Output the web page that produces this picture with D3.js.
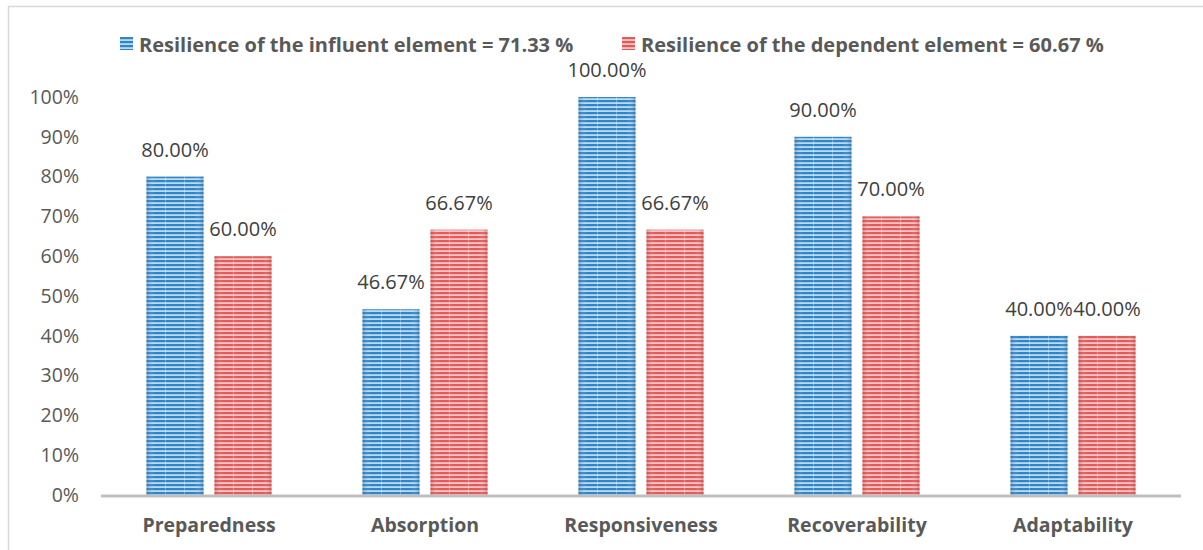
<!DOCTYPE html>
<html>
<head>
<meta charset="utf-8">
<script src="https://cdn.jsdelivr.net/npm/d3@7"></script>
<style>
  body { margin: 0; background: #fff; }
  svg text { font-family: "Open Sans", "Noto Sans", sans-serif; }
  .tick-label { fill: #595959; font-size: 19.5px; }
  .val-label { fill: #404040; font-size: 20px; }
  .cat-label { fill: #595959; font-size: 19.5px; font-weight: bold; }
  .legend-text { fill: #595959; font-size: 20px; font-weight: bold; }
</style>
</head>
<body>
<div id="chart"></div>
<script>
// Chart data
const categories = ["Preparedness", "Absorption", "Responsiveness", "Recoverability", "Adaptability"];
const seriesNames = ["Resilience of the influent element = 71.33 %", "Resilience of the dependent element = 60.67 %"];
const influent = [80.00, 46.67, 100.00, 90.00, 40.00];
const dependent = [60.00, 66.67, 66.67, 70.00, 40.00];
const yTicks = [0, 10, 20, 30, 40, 50, 60, 70, 80, 90, 100];

const W = 1203, H = 550;
const plotL = 101, plotR = 1181, plotT = 97, plotB = 495;

const svg = d3.select("#chart").append("svg")
    .attr("width", W)
    .attr("height", H);

// striped fills
const defs = svg.append("defs");
function stripes(id, dark, light, edge) {
  const p = defs.append("pattern")
      .attr("id", id)
      .attr("patternUnits", "userSpaceOnUse")
      .attr("width", 8).attr("height", 4);
  p.append("rect").attr("width", 8).attr("height", 4).attr("fill", dark);
  p.append("rect").attr("y", 2.2).attr("width", 8).attr("height", 1.8).attr("fill", light);
  // soft shading across the bar
  const g = defs.append("linearGradient").attr("id", id + "-shade")
      .attr("x1", 0).attr("x2", 1).attr("y1", 0).attr("y2", 0);
  g.append("stop").attr("offset", 0).attr("stop-color", edge).attr("stop-opacity", 0.35);
  g.append("stop").attr("offset", 0.15).attr("stop-color", "#fff").attr("stop-opacity", 0);
  g.append("stop").attr("offset", 0.85).attr("stop-color", "#fff").attr("stop-opacity", 0);
  g.append("stop").attr("offset", 1).attr("stop-color", edge).attr("stop-opacity", 0.35);
}
stripes("blue", "#2e86c8", "#bcd9ef", "#1a5f96");
stripes("red", "#e25a5a", "#f7c5c5", "#a83232");
const fills = ["blue", "red"];

// frame
svg.append("line").attr("x1", 8.5).attr("x2", 8.5).attr("y1", 6).attr("y2", H).attr("stroke", "#d9d9d9").attr("stroke-width", 1.5);
svg.append("line").attr("x1", 8.5).attr("x2", W).attr("y1", 6.5).attr("y2", 6.5).attr("stroke", "#d9d9d9").attr("stroke-width", 1.5);

// scales
const x0 = d3.scaleBand().domain(categories).range([plotL, plotR]);
const x1 = d3.scaleBand().domain([0, 1])
    .range([45.5, x0.bandwidth() - 45.5])
    .paddingInner(0.162);
const y = d3.scaleLinear().domain([0, 100]).range([plotB, plotT]);

// y tick labels
svg.append("g").selectAll("text")
    .data(yTicks)
    .join("text")
    .attr("class", "tick-label")
    .attr("x", 79)
    .attr("y", d => y(d))
    .attr("dy", "0.35em")
    .attr("text-anchor", "end")
    .text(d => d + "%");

// bars
const rows = categories.map((c, i) => ({ cat: c, vals: [influent[i], dependent[i]] }));
const groups = svg.append("g").selectAll("g")
    .data(rows)
    .join("g")
    .attr("transform", d => `translate(${x0(d.cat)},0)`);

const cells = groups.selectAll("g")
    .data(d => d.vals.map((v, s) => ({ v, s })))
    .join("g");

cells.append("rect")
    .attr("x", d => x1(d.s))
    .attr("y", d => y(d.v))
    .attr("width", x1.bandwidth())
    .attr("height", d => y(0) - y(d.v))
    .attr("fill", d => `url(#${fills[d.s]})`);

cells.append("rect")
    .attr("x", d => x1(d.s))
    .attr("y", d => y(d.v))
    .attr("width", x1.bandwidth())
    .attr("height", d => y(0) - y(d.v))
    .attr("fill", d => `url(#${fills[d.s]}-shade)`);

// faint vertical seams
[1 / 3, 2 / 3].forEach(f => {
  cells.append("line")
      .attr("x1", d => x1(d.s) + x1.bandwidth() * f)
      .attr("x2", d => x1(d.s) + x1.bandwidth() * f)
      .attr("y1", d => y(d.v))
      .attr("y2", y(0))
      .attr("stroke", "#fff")
      .attr("stroke-opacity", 0.3)
      .attr("stroke-width", 1);
});

// value labels
cells.append("text")
    .attr("class", "val-label")
    .attr("x", d => x1(d.s) + x1.bandwidth() / 2)
    .attr("y", d => y(d.v) - 20)
    .attr("text-anchor", "middle")
    .text(d => d.v.toFixed(2) + "%");

// x axis line
svg.append("line")
    .attr("x1", plotL).attr("x2", plotR)
    .attr("y1", y(0) + 1).attr("y2", y(0) + 1)
    .attr("stroke", "#bfbfbf").attr("stroke-width", 3);

// category labels
svg.append("g").selectAll("text")
    .data(categories)
    .join("text")
    .attr("class", "cat-label")
    .attr("x", d => x0(d) + x0.bandwidth() / 2)
    .attr("y", 532)
    .attr("text-anchor", "middle")
    .text(d => d);

// legend
const legendX = [120, 622];
const legend = svg.append("g").selectAll("g")
    .data(seriesNames)
    .join("g")
    .attr("transform", (d, i) => `translate(${legendX[i]},37)`);
legend.append("rect")
    .attr("width", 13).attr("height", 13)
    .attr("fill", (d, i) => `url(#${fills[i]})`);
legend.append("text")
    .attr("class", "legend-text")
    .attr("x", 19)
    .attr("y", 15)
    .text(d => d);
</script>
</body>
</html>
